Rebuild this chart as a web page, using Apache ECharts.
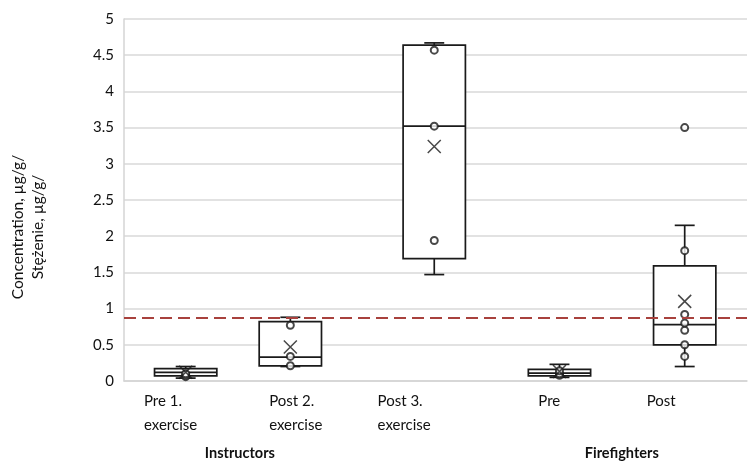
<!DOCTYPE html>
<html>
<head>
<meta charset="utf-8">
<script src="https://cdn.jsdelivr.net/npm/echarts@6/dist/echarts.min.js"></script>
<style>
  html, body { margin: 0; padding: 0; background: #fff; }
  #chart { width: 749px; height: 465px; }
</style>
</head>
<body>
<div id="chart"></div>
<script>
// Box plot data, one entry per measurement group
const categories = ['Pre 1.\nexercise', 'Post 2.\nexercise', 'Post 3.\nexercise', 'Pre', 'Post'];
const groupNames = ['Instructors', 'Firefighters'];
const whiskerMin = [0.04, 0.20, 1.47, 0.05, 0.20];
const q1 = [0.07, 0.21, 1.69, 0.07, 0.50];
const median = [0.12, 0.33, 3.52, 0.11, 0.78];
const q3 = [0.17, 0.82, 4.64, 0.16, 1.59];
const whiskerMax = [0.20, 0.88, 4.67, 0.23, 2.15];
const means = [0.12, 0.47, 3.24, 0.13, 1.10];
const points = [
  [0.06, 0.08, 0.10],
  [0.21, 0.34, 0.77],
  [1.94, 3.52, 4.57],
  [0.08, 0.10, 0.14],
  [0.34, 0.50, 0.70, 0.80, 0.92, 1.80, 3.50]
];
const limitValue = 0.88;
const yTicks = [0, 0.5, 1, 1.5, 2, 2.5, 3, 3.5, 4, 4.5, 5];

// Layout of the horizontal band (axis units, 0..10)
const slotPos = [0.99, 2.67, 4.98, 6.99, 9.0];
const labelPos = [0.32, 2.33, 4.07, 6.65, 8.39];
const groupPos = [1.86, 7.99];
const boxWidth = 1.0;
const capWidth = 0.32;

const ink = '#1a1a1a';
const font = 'Lato, "Open Sans", sans-serif';

const boxData = categories.map((c, i) =>
  [slotPos[i], whiskerMin[i], q1[i], median[i], q3[i], whiskerMax[i]]);

const pointData = [];
points.forEach((arr, i) => arr.forEach(v => pointData.push([slotPos[i], v])));
const meanData = means.map((v, i) => [slotPos[i], v]);

function renderBox(params, api) {
  const x = api.value(0);
  const pMin = api.coord([x, api.value(1)]);
  const pQ1 = api.coord([x, api.value(2)]);
  const pMed = api.coord([x, api.value(3)]);
  const pQ3 = api.coord([x, api.value(4)]);
  const pMax = api.coord([x, api.value(5)]);
  const w = api.size([boxWidth, 0])[0];
  const cw = api.size([capWidth, 0])[0];
  const cx = pMed[0];
  const style = { stroke: ink, lineWidth: 1.7, fill: null };
  return {
    type: 'group',
    children: [
      { type: 'line', shape: { x1: cx, y1: pQ3[1], x2: cx, y2: pMax[1] }, style },
      { type: 'line', shape: { x1: cx, y1: pQ1[1], x2: cx, y2: pMin[1] }, style },
      { type: 'line', shape: { x1: cx - cw / 2, y1: pMax[1], x2: cx + cw / 2, y2: pMax[1] }, style },
      { type: 'line', shape: { x1: cx - cw / 2, y1: pMin[1], x2: cx + cw / 2, y2: pMin[1] }, style },
      { type: 'rect', shape: { x: cx - w / 2, y: pQ3[1], width: w, height: pQ1[1] - pQ3[1] },
        style: { stroke: ink, lineWidth: 1.7, fill: '#fff' } },
      { type: 'line', shape: { x1: cx - w / 2, y1: pMed[1], x2: cx + w / 2, y2: pMed[1] }, style }
    ]
  };
}

function labelFor(list, names) {
  return function (v) {
    for (let i = 0; i < list.length; i++) {
      if (Math.abs(list[i] - v) < 1e-6) return names[i];
    }
    return '';
  };
}

const chart = echarts.init(document.getElementById('chart'));
chart.setOption({
  animation: false,
  backgroundColor: '#fff',
  grid: { left: 115, right: 2, top: 19, bottom: 84, containLabel: false },
  xAxis: [
    {
      type: 'value', min: 0, max: 10, position: 'bottom',
      axisLine: { show: true, onZero: false, lineStyle: { color: '#d4d4d4', width: 1.5 } },
      axisTick: { show: false },
      splitLine: { show: false },
      axisLabel: {
        customValues: labelPos,
        formatter: labelFor(labelPos, categories),
        align: 'left',
        margin: 8,
        color: '#111', fontSize: 15, lineHeight: 24, fontFamily: font
      }
    },
    {
      type: 'value', min: 0, max: 10, position: 'bottom', offset: 57,
      axisLine: { show: false }, axisTick: { show: false }, splitLine: { show: false },
      axisLabel: {
        customValues: groupPos,
        formatter: labelFor(groupPos, groupNames),
        align: 'center',
        color: '#111', fontSize: 14.5, fontWeight: 'bold', fontFamily: font
      }
    }
  ],
  yAxis: {
    type: 'value', min: 0, max: 5, interval: 0.5,
    axisLine: { show: true, lineStyle: { color: '#d4d4d4', width: 1.5 } },
    axisTick: { show: false },
    splitLine: { show: true, lineStyle: { color: '#d9d9d9', width: 1.5 } },
    axisLabel: {
      color: '#111', fontSize: 15, margin: 10, fontFamily: font,
      formatter: v => yTicks.includes(v) ? String(v) : ''
    },
    name: 'Concentration, µg/g/\nStężenie, µg/g/',
    nameLocation: 'middle',
    nameRotate: 90,
    nameGap: 76,
    nameTextStyle: {
      color: '#111', fontSize: 15.5, lineHeight: 20, fontFamily: font,
      padding: [0, 54, 0, 0]
    }
  },
  series: [
    {
      type: 'custom',
      renderItem: renderBox,
      data: boxData,
      encode: { x: 0, y: [1, 2, 3, 4, 5] },
      z: 2,
      markLine: {
        silent: true,
        symbol: ['none', 'none'],
        label: { show: false },
        lineStyle: { color: '#a8413d', width: 2, type: [12, 6] },
        data: [{ yAxis: limitValue }]
      }
    },
    {
      type: 'scatter',
      data: pointData,
      symbol: 'emptyCircle',
      symbolSize: 7,
      itemStyle: { color: ink, borderWidth: 1.5 },
      z: 4
    },
    {
      type: 'scatter',
      data: meanData,
      symbol: 'path://M0,0L10,10M10,0L0,10',
      symbolSize: 13,
      itemStyle: { color: 'transparent', borderColor: ink, borderWidth: 1.5 },
      z: 5
    }
  ]
});
</script>
</body>
</html>
